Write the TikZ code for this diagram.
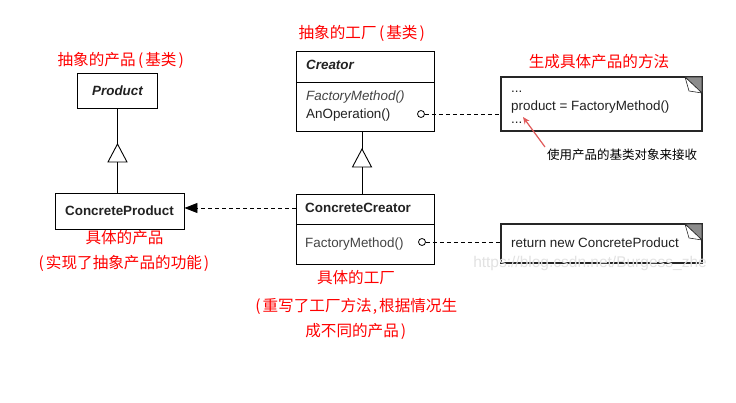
\documentclass[tikz,border=0pt]{standalone}
\usepackage{fontspec}
\setmainfont{Liberation Sans}
\newfontfamily\cjk{Noto Sans CJK SC}
\usetikzlibrary{arrows.meta,calc}
\definecolor{ink}{HTML}{222222}
\definecolor{inkb}{HTML}{444444}
\definecolor{redtxt}{HTML}{FF0000}
\definecolor{arrowred}{HTML}{E05A5A}
\definecolor{wm}{HTML}{E2E2E2}
\newcommand\lpar{\kern2.5pt(\kern2pt}
\newcommand\rpar{\kern2pt)\kern2.5pt}
\begin{document}
\begin{tikzpicture}[x=1pt,y=-1pt,
 umlbox/.style={draw=black, line width=0.9pt, fill=white, inner sep=0},
 umltxt/.style={font=\fontsize{13.4}{15}\selectfont, text=ink, inner sep=0, anchor=west},
 umlbold/.style={font=\bfseries\fontsize{13.4}{15}\selectfont, text=ink, inner sep=0, anchor=west},
 umlbi/.style={font=\bfseries\itshape\fontsize{13.4}{15}\selectfont, text=ink, inner sep=0, anchor=west},
 umlit/.style={font=\itshape\fontsize{13.4}{15}\selectfont, text=inkb, inner sep=0, anchor=west},
 redlbl/.style={font=\cjk\fontsize{15.6}{18}\selectfont, text=redtxt, inner sep=0},
 conn/.style={draw=black, line width=0.9pt},
 dashconn/.style={draw=black, line width=0.9pt, dash pattern=on 4pt off 3pt},
 socket/.style={circle, draw=black, line width=0.8pt, fill=white, inner sep=0, minimum size=7pt},
 notebox/.style={draw=black!85, line width=1.1pt, fill=white, inner sep=0},
 fold/.style={fill=black!45, draw=black!85, line width=0.6pt},
 flap/.style={fill=white, draw=black!85, line width=0.6pt},
 gen/.style={draw=black, line width=0.9pt, fill=white},
]
\fill[white] (0,0) rectangle (736,403);
\useasboundingbox (0,0) rectangle (736,403);

% ---- Product side
\node[umlbox, minimum width=80pt, minimum height=35pt] (p) at (117.5,90.5) {};
\node[umlbi, anchor=center] (pt) at (p) {Product};
\node[umlbox, minimum width=129pt, minimum height=36pt] (cp) at (119.5,211) {};
\node[umlbold, anchor=center] (cpt) at (cp) {ConcreteProduct};
\draw[conn] (p.south) -- (p.south |- cp.north);
\coordinate (g1) at (117.5,144);
\draw[gen] (g1) -- ++(-9.5,18) -- ++(19,0) -- cycle;

% ---- Creator side
\node[umlbox, minimum width=138pt, minimum height=80pt] (cr) at (365,91) {};
\draw[conn] (296,82) -- (434,82);
\node[umlbi] (crt) at (306,65) {Creator};
\node[umlit] (crf) at (306,97.5) {FactoryMethod()};
\node[umltxt] (cro) at (306,115.5) {AnOperation()};

\node[umlbox, minimum width=138pt, minimum height=70pt] (cc) at (365,229) {};
\draw[conn] (296,224) -- (434,224);
\node[umlbold] (cct) at (305,208) {ConcreteCreator};
\node[umltxt, text=inkb] (ccf) at (305,244) {FactoryMethod()};

\coordinate (cx) at (362,0);
\draw[conn] (cx |- cr.south) -- (cx |- cc.north);
\coordinate (g2) at (362,149);
\draw[gen] (g2) -- ++(-9.5,18) -- ++(19,0) -- cycle;

% dependency ConcreteCreator -> ConcreteProduct
\draw[dashconn, -{Triangle[length=13pt,width=10pt]}] (cc.west |- cct) -- (cp.east |- cct);

% ---- Notes
\node[notebox, minimum width=201pt, minimum height=54pt] (n1) at (601.5,104) {};
\fill[fold] (685,77) -- (702,77) -- (702,93) -- cycle;
\filldraw[flap] (685,77) -- (689,91) -- (702,93) -- cycle;
\node[umltxt, anchor=base west] (n1a) at (511,92.5) {...};
\node[umltxt, anchor=base west] (n1b) at (511,110.5) {product = FactoryMethod()};
\node[umltxt, anchor=base west] (n1c) at (511,123.5) {...};

\node[notebox, minimum width=201pt, minimum height=39pt] (n2) at (601.5,243.5) {};
\fill[fold] (685,224) -- (702,224) -- (702,240) -- cycle;
\filldraw[flap] (685,224) -- (689,238) -- (702,240) -- cycle;
\node[umltxt] (n2a) at (511,243) {return new ConcreteProduct};

% sockets and dashed links to notes
\node[socket] (s1) at (421,114) {};
\node[socket] (s2) at (422,242) {};
\draw[dashconn] (s1) -- (n1.west |- s1);
\draw[dashconn] (s2) -- (n2.west |- s2);

% ---- Red labels
\node[redlbl] (l1) at (122,60) {抽象的产品\lpar 基类\rpar};
\node[redlbl] (l2) at (363,33) {抽象的工厂\lpar 基类\rpar};
\node[redlbl] (l3) at (599,62) {生成具体产品的方法};
\node[redlbl] (l4) at (124.5,238) {具体的产品};
\node[redlbl] (l5) at (124,263) {\lpar 实现了抽象产品的功能\rpar};
\node[redlbl] (l6) at (356,278) {具体的工厂};
\node[redlbl] (l7) at (355,306) {\lpar 重写了工厂方法\kern1pt,\kern2pt 根据情况生};
\node[redlbl] (l8) at (357,331) {成不同的产品\rpar};

% ---- annotation
\node[font=\cjk\fontsize{12.5}{15}\selectfont, text=black, inner sep=0] (ann) at (622,155) {使用产品的基类对象来接收};
\coordinate (arS) at (545,147);
\coordinate (arE) at (523,117);
\draw[arrowred, line width=1.2pt, -{Stealth[length=7pt,width=6pt]}] (arS) -- (arE);

% ---- watermark
\node[font=\fontsize{15.5}{17}\selectfont, text=wm, inner sep=0] (wmk) at (590,263) {https://blog.csdn.net/Burgess\_zhe};
\end{tikzpicture}
\end{document}
